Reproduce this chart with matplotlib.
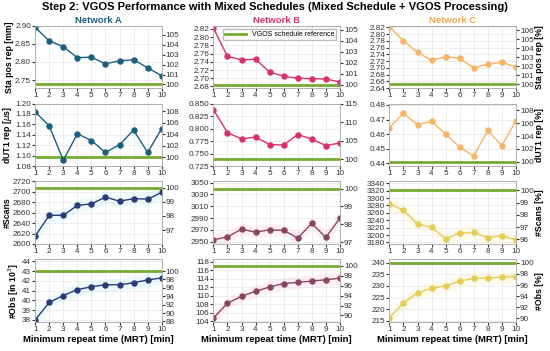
import numpy as np
import matplotlib.pyplot as plt

plt.rcParams['font.family'] = ['Liberation Sans', 'DejaVu Sans']
plt.rcParams['font.size'] = 6

mrt = np.arange(1, 11)
networks = ['Network A', 'Network B', 'Network C']

# station position repeatability [mm]
sta_a = [2.895, 2.858, 2.842, 2.812, 2.813, 2.795, 2.803, 2.806, 2.784, 2.762]
sta_b = [2.822, 2.753, 2.745, 2.746, 2.715, 2.705, 2.700, 2.699, 2.698, 2.691]
sta_c = [2.822, 2.780, 2.746, 2.722, 2.733, 2.728, 2.700, 2.711, 2.716, 2.703]
sta_ref = [2.738, 2.684, 2.652]

# dUT1 repeatability [us]
dut_a = [1.184, 1.157, 1.091, 1.142, 1.129, 1.106, 1.121, 1.149, 1.106, 1.152]
dut_b = [0.838, 0.792, 0.779, 0.783, 0.768, 0.767, 0.788, 0.779, 0.766, 0.771]
dut_c = [0.4645, 0.4742, 0.4665, 0.4688, 0.4600, 0.4510, 0.4448, 0.4625, 0.4520, 0.4690]
dut_ref = [1.097, 0.739, 0.441]

# number of scans
scans_a = [2615, 2655, 2655, 2674, 2677, 2690, 2682, 2687, 2686, 2699]
scans_b = [2953, 2958, 2971, 2966, 2970, 2969, 2956, 2981, 2957, 2990]
scans_c = [3285, 3267, 3230, 3221, 3190, 3205, 3207, 3193, 3198, 3187]
scans_ref = [2708, 3040, 3321]

# number of observations [1e3]
obs_a = [38.0, 39.8, 40.5, 41.1, 41.4, 41.6, 41.6, 41.8, 42.1, 42.3]
obs_b = [104.7, 108.2, 109.8, 111.0, 112.0, 112.8, 113.1, 113.4, 113.7, 114.1]
obs_c = [216.3, 222.7, 227.0, 229.0, 230.1, 232.1, 233.3, 233.5, 233.8, 234.1]
obs_ref = [43.0, 117.0, 240.0]

rows = [
    ([sta_a, sta_b, sta_c], sta_ref, 'Sta pos rep [mm]', 'Sta pos rep [%]'),
    ([dut_a, dut_b, dut_c], dut_ref, r'dUT1 rep [$\mu$s]', 'dUT1 rep [%]'),
    ([scans_a, scans_b, scans_c], scans_ref, '#Scans', '#Scans [%]'),
    ([obs_a, obs_b, obs_c], obs_ref, r'#Obs [in 10$^3$]', '#Obs [%]'),
]

# axis settings (ylim, left ticks, right ticks) per row / column
ylims = [
    [(2.728, 2.90), (2.676, 2.828), (2.640, 2.825)],
    [(1.08, 1.20), (0.725, 0.850), (0.438, 0.481)],
    [(2600, 2720), (2946, 3052), (3176, 3345)],
    [(37.8, 44.2), (103.8, 118.5), (214.5, 241.5)],
]
lticks = [
    [np.arange(2.75, 2.91, 0.05), np.arange(2.68, 2.83, 0.02), np.arange(2.64, 2.83, 0.02)],
    [np.arange(1.08, 1.21, 0.02), np.arange(0.725, 0.851, 0.025), np.arange(0.44, 0.481, 0.01)],
    [np.arange(2600, 2721, 20), np.arange(2950, 3051, 20), np.arange(3180, 3341, 20)],
    [np.arange(38, 45, 1), np.arange(104, 119, 2), np.arange(215, 241, 5)],
]
rticks = [
    [range(100, 106), range(100, 106), range(100, 107)],
    [range(100, 109, 2), range(100, 116, 5), range(100, 109, 2)],
    [range(97, 101), range(97, 101), range(96, 101)],
    [range(88, 101, 2), range(90, 101, 2), range(90, 101, 2)],
]
lfmt = [['%.2f', '%.2f', '%.2f'], ['%.2f', '%.3f', '%.2f'],
        ['%d', '%d', '%d'], ['%d', '%d', '%d']]

title_colors = ['#1b5f7e', '#d9306b', '#f2a950']
line_top = ['#1b5f7e', '#d9306b', '#f7b366']
line_bot = ['#283c78', '#8a4560', '#e6cc55']
band_colors = ['#c8f0f5', '#fbd3e6', '#fbf0c8']
green = '#77ac30'

fig = plt.figure(figsize=(5.5, 3.51), dpi=100)
fig.suptitle('Step 2: VGOS Performance with Mixed Schedules (Mixed Schedule + VGOS Processing)',
             fontsize=8, fontweight='bold', y=0.995)

lefts = [0.064, 0.388, 0.708]
bottoms = [0.749, 0.527, 0.305, 0.083]
w, h = 0.230, 0.178

for r, (series, refs, llab, rlab) in enumerate(rows):
    for c in range(3):
        ax = fig.add_axes([lefts[c], bottoms[r], w, h])
        y = np.array(series[c], dtype=float)
        col = line_top[c] if r < 2 else line_bot[c]
        if r >= 2:
            d = 0.10 * (ylims[r][c][1] - ylims[r][c][0])
            ax.fill_between(mrt, y - d, y + d, color=band_colors[c], alpha=0.35, lw=0)
        ax.axhline(refs[c], color=green, lw=2, label='VGOS schedule reference', zorder=2)
        ax.plot(mrt, y, '-o', color=col, lw=1.0, ms=3.6, zorder=3)
        ax.set_xlim(1, 10)
        ax.set_xticks(mrt)
        ax.set_ylim(*ylims[r][c])
        ax.set_yticks(lticks[r][c])
        ax.set_yticklabels([lfmt[r][c] % v for v in lticks[r][c]])
        ax.grid(True, color='#e6e6e6', lw=0.5)
        ax.set_axisbelow(True)
        ax.tick_params(labelsize=5.9, length=2, pad=1.0, colors='#333333')
        for s in ax.spines.values():
            s.set_color('#b0b0b0')
            s.set_linewidth(0.6)

        ax2 = ax.twinx()
        lo, hi = ylims[r][c]
        ax2.set_ylim(lo / refs[c] * 100, hi / refs[c] * 100)
        ax2.set_yticks(list(rticks[r][c]))
        ax2.tick_params(labelsize=5.9, length=2, pad=1.0, colors='#333333')
        for s in ax2.spines.values():
            s.set_color('#b0b0b0')
            s.set_linewidth(0.6)

        if r == 0:
            ax.set_title(networks[c], fontsize=6.8, fontweight='bold',
                         color=title_colors[c], pad=2)
            if c == 1:
                ax.legend(loc='upper right', fontsize=5, frameon=True,
                          handlelength=3, borderpad=0.3, fancybox=False,
                          edgecolor='#b0b0b0')
        if c == 0:
            ax.set_ylabel(llab, fontsize=6.3, fontweight='bold', labelpad=0.5)
        if c == 2:
            ax2.set_ylabel(rlab, fontsize=6.3, fontweight='bold', labelpad=0.5)
        if r == 3:
            ax.set_xlabel('Minimum repeat time (MRT) [min]', fontsize=6.8,
                          fontweight='bold', labelpad=1.5)

fig.savefig('out.png', dpi=100)
